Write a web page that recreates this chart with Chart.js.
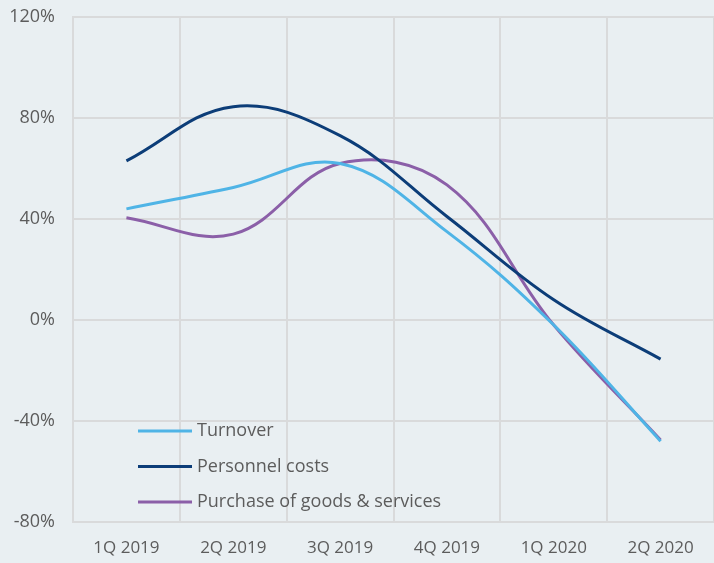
<!DOCTYPE html>
<html>
<head>
<meta charset="utf-8">
<script src="https://cdn.jsdelivr.net/npm/chart.js@4"></script>
<style>
  html, body { margin: 0; padding: 0; background: #e9eff2; }
  #wrap { width: 714px; height: 563px; position: relative; }
</style>
</head>
<body>
<div id="wrap"><canvas id="c" width="714" height="563"></canvas></div>
<script>
const categories = ['1Q 2019', '2Q 2019', '3Q 2019', '4Q 2019', '1Q 2020', '2Q 2020'];
const seriesNames = ['Turnover', 'Personnel costs', 'Purchase of goods & services'];
const turnover = [44, 52.5, 62, 35, -2, -48];
const personnelCosts = [63, 84.5, 73, 41, 8, -15.5];
const purchaseGoods = [40.5, 34, 62, 53.5, -2, -47.5];
const yTicks = [-80, -40, 0, 40, 80, 120];

const colors = ['#4fb4e6', '#0c3d78', '#8b5fa8'];
const textColor = '#5c5c5c';
const gridColor = '#d9dadb';
const fontFamily = '"Open Sans", "Noto Sans", sans-serif';

const bgPlugin = {
  id: 'bg',
  beforeDraw(chart) {
    const ctx = chart.ctx;
    ctx.save();
    ctx.fillStyle = '#e9eff2';
    ctx.fillRect(0, 0, chart.width, chart.height);
    ctx.restore();
  }
};

const innerLegend = {
  id: 'innerLegend',
  afterDraw(chart) {
    const ctx = chart.ctx;
    const a = chart.chartArea;
    ctx.save();
    ctx.font = '18px ' + fontFamily;
    ctx.textBaseline = 'middle';
    ctx.textAlign = 'left';
    chart.data.datasets.forEach((ds, i) => {
      const y = a.top + 414 + i * 35.5;
      const x0 = a.left + 65;
      ctx.strokeStyle = ds.borderColor;
      ctx.lineWidth = 3;
      ctx.beginPath();
      ctx.moveTo(x0, y);
      ctx.lineTo(x0 + 54, y);
      ctx.stroke();
      ctx.fillStyle = textColor;
      ctx.fillText(ds.label, x0 + 59, y);
    });
    ctx.restore();
  }
};

const seriesData = [turnover, personnelCosts, purchaseGoods];

new Chart(document.getElementById('c'), {
  type: 'line',
  data: {
    labels: categories,
    datasets: seriesData.map((d, i) => ({
      label: seriesNames[i],
      data: d,
      borderColor: colors[i],
      backgroundColor: colors[i],
      borderWidth: 3,
      pointRadius: 0,
      tension: 0.38,
      fill: false
    }))
  },
  options: {
    responsive: false,
    devicePixelRatio: 1,
    animation: false,
    layout: { padding: { top: 17, right: 0, bottom: 0, left: 0 } },
    plugins: { legend: { display: false }, tooltip: { enabled: false } },
    scales: {
      x: {
        offset: true,
        afterFit(scale) { scale.height = 41; scale.paddingLeft = 0; scale.paddingRight = 0; },
        grid: { offset: true, color: gridColor, lineWidth: 2, drawTicks: false },
        border: { color: gridColor, width: 2 },
        ticks: { color: textColor, font: { family: fontFamily, size: 17 }, padding: 16, maxRotation: 0 }
      },
      y: {
        min: -80,
        max: 120,
        afterBuildTicks(scale) { scale.ticks = yTicks.map(v => ({ value: v })); },
        afterFit(scale) { scale.width = 73; scale.paddingTop = 0; scale.paddingBottom = 0; },
        grid: { color: gridColor, lineWidth: 2, drawTicks: false },
        border: { color: gridColor, width: 2 },
        ticks: { color: textColor, font: { family: fontFamily, size: 18 }, padding: 18, callback: v => v + '%' }
      }
    }
  },
  plugins: [bgPlugin, innerLegend]
});
</script>
</body>
</html>
